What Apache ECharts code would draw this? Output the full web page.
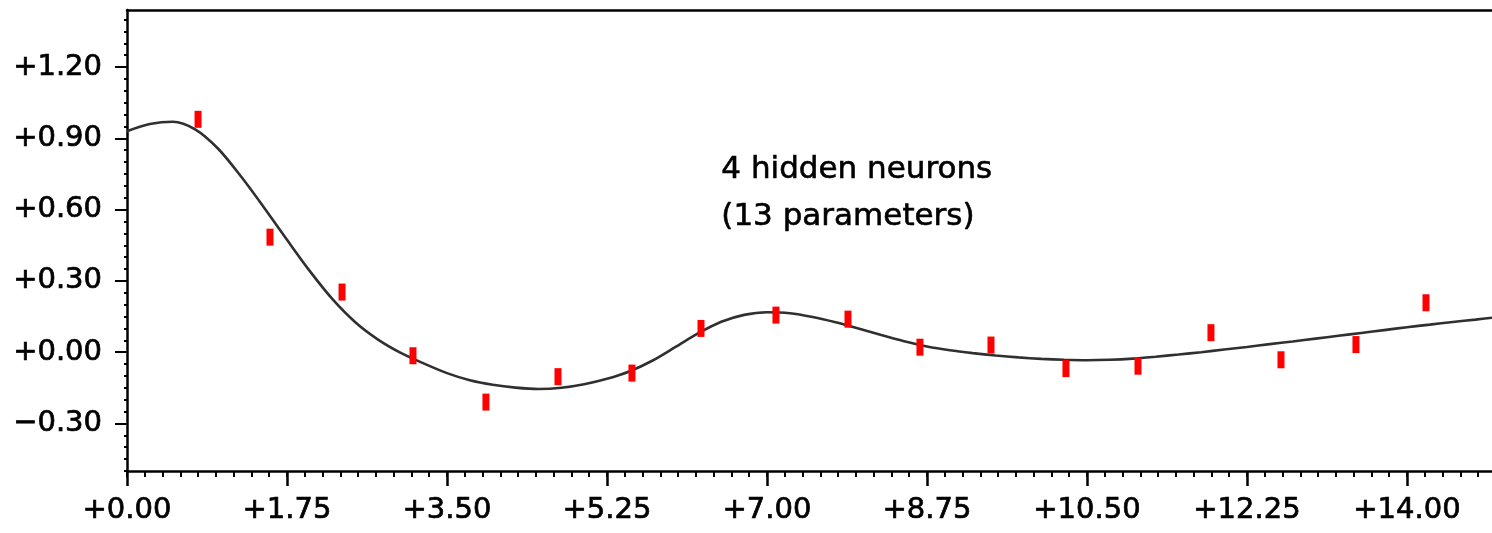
<!DOCTYPE html>
<html>
<head>
<meta charset="utf-8">
<script src="https://cdn.jsdelivr.net/npm/echarts@6/dist/echarts.min.js"></script>
<style>
html,body{margin:0;padding:0;background:#fff;}
#chart{width:1492px;height:533px;}
</style>
</head>
<body>
<div id="chart"></div>
<script>
// ---- data ----
const sampleX = [0.777, 1.564, 2.352, 3.128, 3.926, 4.714, 5.523, 6.278, 7.098, 7.886, 8.673, 9.450, 10.270, 11.058, 11.856, 12.622, 13.442, 14.208];
const sampleY = [0.98, 0.484, 0.253, -0.015, -0.21, -0.103, -0.088, 0.10, 0.156, 0.139, 0.021, 0.03, -0.069, -0.059, 0.082, -0.032, 0.032, 0.208];

const curveX = [0, 0.25, 0.5, 0.75, 1.0, 1.25, 1.5, 1.75, 2.0, 2.25, 2.5, 2.75, 3.0, 3.25, 3.5, 3.75, 4.0, 4.25, 4.5, 4.75, 5.0, 5.25, 5.5, 5.75, 6.0, 6.25, 6.5, 6.75, 7.0, 7.25, 7.5, 7.75, 8.0, 8.25, 8.5, 8.75, 9.0, 9.25, 9.5, 9.75, 10.0, 10.25, 10.5, 10.75, 11.0, 11.25, 11.5, 11.75, 12.0, 12.25, 12.5, 12.75, 13.0, 13.25, 13.5, 13.75, 14.0, 14.25, 14.5, 14.75, 14.93];
const curveY = [0.930, 0.960, 0.970, 0.937, 0.855, 0.738, 0.608, 0.473, 0.341, 0.222, 0.125, 0.052, -0.004, -0.048, -0.088, -0.118, -0.137, -0.149, -0.155, -0.150, -0.135, -0.112, -0.080, -0.035, 0.022, 0.080, 0.128, 0.157, 0.168, 0.164, 0.148, 0.126, 0.100, 0.072, 0.046, 0.024, 0.008, -0.004, -0.014, -0.022, -0.028, -0.032, -0.034, -0.032, -0.027, -0.019, -0.010, 0.000, 0.011, 0.022, 0.034, 0.045, 0.057, 0.069, 0.081, 0.093, 0.105, 0.116, 0.127, 0.137, 0.145];

const xTicks = [0, 1.75, 3.5, 5.25, 7, 8.75, 10.5, 12.25, 14];
const yTicks = [-0.3, 0, 0.3, 0.6, 0.9, 1.2];
const xRange = [0, 14.93];
const yRange = [-0.5, 1.44];
const xMinorPerMajor = 9;
const yMinorPerMajor = 6;
const annotationLines = ['4 hidden neurons', '(13 parameters)'];

// ---- minor tick positions (axis decoration) ----
function minorTicks(majors, per, range) {
  const step = (majors[1] - majors[0]) / per;
  const out = [];
  let start = majors[0];
  while (start - step >= range[0] - 1e-9) start -= step;
  for (let v = start; v <= range[1] + 1e-9; v += step) out.push(+v.toFixed(6));
  return out;
}
const xMinor = minorTicks(xTicks, xMinorPerMajor, xRange);
const yMinor = minorTicks(yTicks, yMinorPerMajor, yRange);

const fmt = v => (v < 0 ? '\u2212' : '+') + Math.abs(v).toFixed(2);
const FONT = 'DejaVu Sans';
const INK = '#000';

const labelStyle = {
  color: INK, fontFamily: FONT, fontSize: 29,
  textBorderColor: INK, textBorderWidth: 0.7
};

const chart = echarts.init(document.getElementById('chart'));
chart.setOption({
  backgroundColor: '#ffffff',
  animation: false,
  grid: { left: 127, right: 0, top: 10, bottom: 62, containLabel: false },
  graphic: [{
    type: 'text',
    left: 861 - 140, top: 146,
    style: {
      text: annotationLines.join('\n'),
      font: '31px "DejaVu Sans"',
      fill: INK,
      stroke: INK,
      lineWidth: 0.6,
      align: 'center',
      lineHeight: 47,
      width: 280
    }
  }],
  xAxis: [
    {
      type: 'value', position: 'bottom', min: xRange[0], max: xRange[1],
      splitLine: { show: false },
      axisLine: { show: true, onZero: false, lineStyle: { color: INK, width: 2.5 } },
      axisTick: { show: true, customValues: xTicks, length: 15, lineStyle: { color: INK, width: 2.5 } },
      axisLabel: Object.assign({ customValues: xTicks, formatter: fmt, margin: 25 }, labelStyle)
    },
    {
      type: 'value', position: 'bottom', min: xRange[0], max: xRange[1],
      splitLine: { show: false },
      axisLine: { show: false, onZero: false },
      axisTick: { show: true, customValues: xMinor, length: 6, lineStyle: { color: INK, width: 2 } },
      axisLabel: { show: false }
    },
    {
      type: 'value', position: 'top', min: xRange[0], max: xRange[1],
      splitLine: { show: false },
      axisLine: { show: true, onZero: false, lineStyle: { color: INK, width: 2.5 } },
      axisTick: { show: false },
      axisLabel: { show: false }
    }
  ],
  yAxis: [
    {
      type: 'value', position: 'left', min: yRange[0], max: yRange[1],
      splitLine: { show: false },
      axisLine: { show: true, onZero: false, lineStyle: { color: INK, width: 2.5 } },
      axisTick: { show: true, customValues: yTicks, length: 12, lineStyle: { color: INK, width: 2 } },
      axisLabel: Object.assign({ customValues: yTicks, formatter: fmt, margin: 25, padding: [6, 0, 0, 0] }, labelStyle)
    },
    {
      type: 'value', position: 'left', min: yRange[0], max: yRange[1],
      splitLine: { show: false },
      axisLine: { show: false, onZero: false },
      axisTick: { show: true, customValues: yMinor, length: 3, lineStyle: { color: INK, width: 2 } },
      axisLabel: { show: false }
    }
  ],
  series: [
    {
      type: 'line',
      xAxisIndex: 0, yAxisIndex: 0,
      data: curveX.map((x, i) => [x, curveY[i]]),
      smooth: 0.3,
      showSymbol: false,
      lineStyle: { color: '#303030', width: 2.6 },
      z: 2
    },
    {
      type: 'scatter',
      xAxisIndex: 0, yAxisIndex: 0,
      data: sampleX.map((x, i) => [x, sampleY[i]]),
      symbol: 'rect',
      symbolSize: [7, 17],
      itemStyle: { color: '#ff0000', opacity: 1 },
      z: 3
    }
  ]
});
</script>
</body>
</html>
